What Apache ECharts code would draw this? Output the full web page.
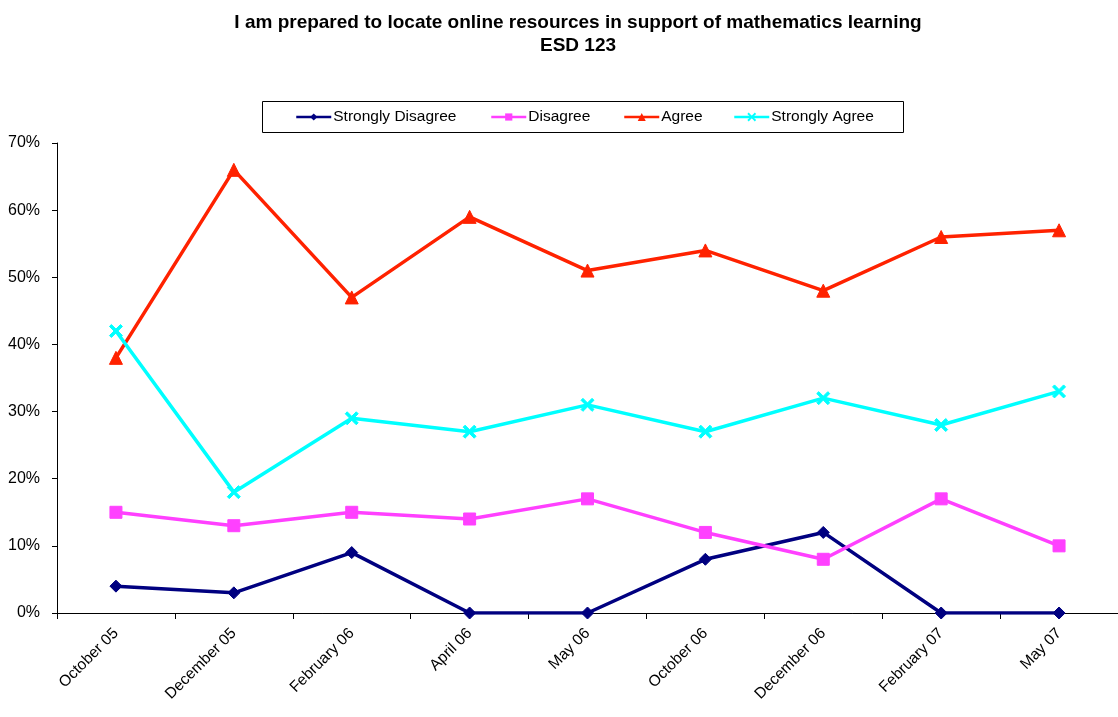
<!DOCTYPE html>
<html>
<head>
<meta charset="utf-8">
<script src="https://cdn.jsdelivr.net/npm/echarts@6/dist/echarts.min.js"></script>
<style>html,body{margin:0;padding:0;background:#fff}#c{width:1118px;height:717px}</style>
</head>
<body>
<div id="c"></div>
<script>
const categories = ['October 05','December 05','February 06','April 06','May 06','October 06','December 06','February 07','May 07'];
const stronglyDisagree = [4, 3, 9, 0, 0, 8, 12, 0, 0];
const disagree = [15, 13, 15, 14, 17, 12, 8, 17, 10];
const agree = [38, 66, 47, 59, 51, 54, 48, 56, 57];
const stronglyAgree = [42, 18, 29, 27, 31, 27, 32, 28, 33];
const yTicks = [0, 10, 20, 30, 40, 50, 60, 70];

const FONT = 'Liberation Sans, Arial, sans-serif';
const xSym = 'path://M0,1.5L1.5,0L5,3.5L8.5,0L10,1.5L6.5,5L10,8.5L8.5,10L5,6.5L1.5,10L0,8.5L3.5,5Z';

const seriesDefs = [
  {name:'Strongly Disagree', data:stronglyDisagree, color:'#000080', symbol:'diamond', size:12, legendLeft:295, lsize:9},
  {name:'Disagree', data:disagree, color:'#FF40FF', symbol:'rect', size:12, legendLeft:490, lsize:9},
  {name:'Agree', data:agree, color:'#FF2200', symbol:'triangle', size:13, legendLeft:623, lsize:10},
  {name:'Strongly Agree', data:stronglyAgree, color:'#00FFFF', symbol:xSym, size:13, legendLeft:733, lsize:11}
];

const chart = echarts.init(document.getElementById('c'));
chart.setOption({
  backgroundColor:'#fff',
  animation:false,
  title:{
    text:'I am prepared to locate online resources in support of mathematics learning\nESD 123',
    left:573, top:6, textAlign:'center',
    textStyle:{fontFamily:FONT, fontSize:19, fontWeight:'bold', color:'#000', lineHeight:23}
  },
  graphic:[{type:'rect', shape:{x:262.5, y:101.5, width:641, height:31}, style:{fill:'none', stroke:'#000', lineWidth:1}}],
  legend: seriesDefs.map(s => ({
    data:[s.name], left:s.legendLeft, top:109, padding:0, itemWidth:35, itemHeight:s.lsize, itemGap:2,
    lineStyle:{width:2.5},
    textStyle:{fontFamily:FONT, fontSize:15.5, color:'#000', padding:[0,0,0,-3]}
  })),
  grid:{left:57, top:143, width:1062, height:470, containLabel:false},
  xAxis:{
    type:'category', data:categories, boundaryGap:true,
    axisLine:{lineStyle:{color:'#000', width:1}},
    axisTick:{show:true, alignWithLabel:false, length:6, lineStyle:{color:'#000'}},
    axisLabel:{rotate:45, fontFamily:FONT, fontSize:15.5, color:'#000', margin:18, interval:0},
    splitLine:{show:false}
  },
  yAxis:{
    type:'value', min:0, max:70, interval:10,
    axisLine:{show:true, lineStyle:{color:'#000', width:1}},
    axisTick:{show:true, length:5, lineStyle:{color:'#000'}},
    axisLabel:{fontFamily:FONT, fontSize:16, color:'#000', margin:17, formatter:v => (yTicks.includes(v) ? v + '%' : '')},
    splitLine:{show:false}
  },
  series: seriesDefs.map(s => ({
    name:s.name, type:'line', data:s.data, symbol:s.symbol, symbolSize:s.size,
    lineStyle:{color:s.color, width:3.5}, itemStyle:{color:s.color, borderColor:s.color},
    emphasis:{disabled:true}
  }))
});
</script>
</body>
</html>
